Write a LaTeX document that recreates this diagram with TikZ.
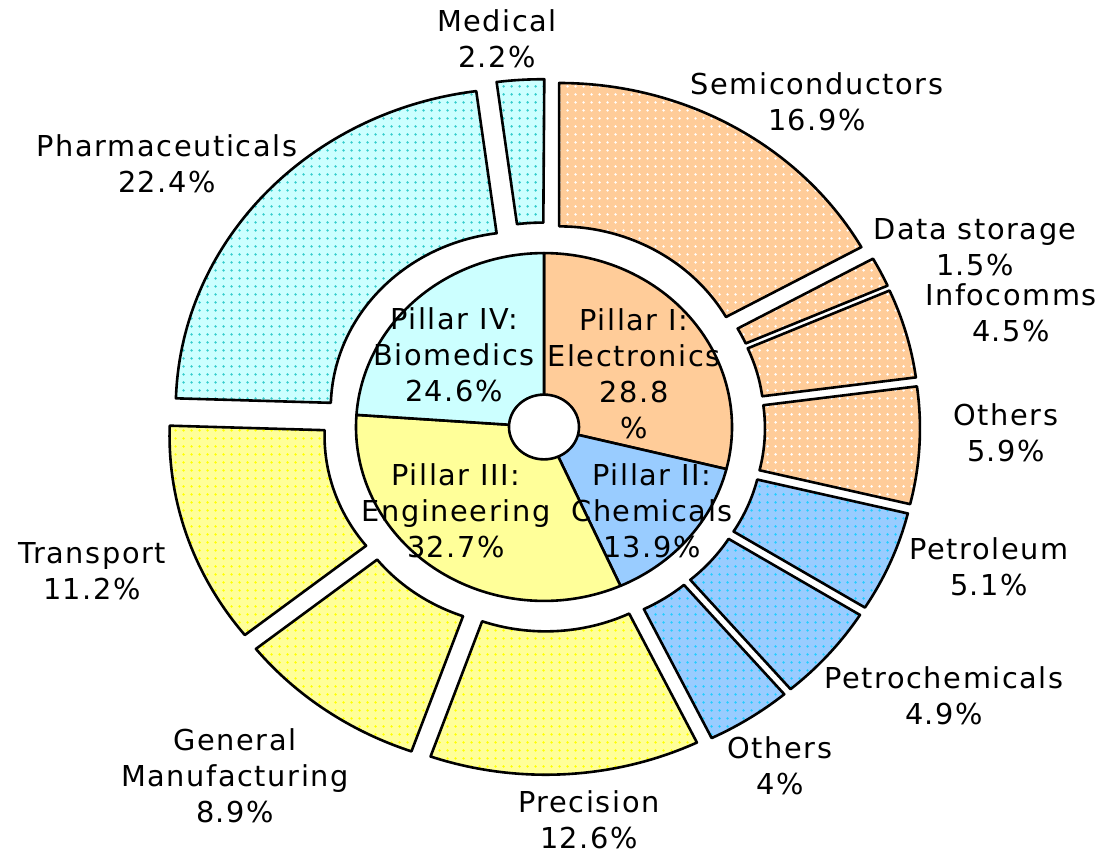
\documentclass[tikz,border=0pt]{standalone}
\usepackage{fontspec}
\setmainfont{DejaVu Sans}
\newfontfamily\lblfont[LetterSpace=5.5]{DejaVu Sans}
\usetikzlibrary{patterns.meta}
\definecolor{elec}{HTML}{FFCC99}
\definecolor{chem}{HTML}{99CCFF}
\definecolor{engi}{HTML}{FFFF99}
\definecolor{biom}{HTML}{CCFFFF}
\definecolor{elecdot}{HTML}{FFFFFF}
\definecolor{chemdot}{HTML}{22CCFF}
\definecolor{engidot}{HTML}{FFFF00}
\definecolor{biomdot}{HTML}{33CCCC}
\tikzset{
  lbl/.style={align=center, inner sep=0pt, font=\lblfont\fontsize{14.4pt}{18pt}\selectfont},
  outline/.style={draw=black, line width=1.3pt, line join=round},
}
\newcommand\ringseg[4]{%
  \pgfmathsetmacro\segmid{(#1+#2)/2}%
  \pgfmathsetmacro\segox{30*cos(\segmid)}%
  \pgfmathsetmacro\segoy{30*sin(\segmid)}%
  \path[outline, preaction={fill=#3}, pattern={Dots[distance=4pt, radius=0.75pt]}, pattern color=#4]
    ({\segox+191*cos(#1)},{\segoy+191*sin(#1)}) -- ({\segox+346*cos(#1)},{\segoy+346*sin(#1)})
    arc[start angle=#1, end angle=#2, radius=346]
    -- ({\segox+191*cos(#2)},{\segoy+191*sin(#2)})
    arc[start angle=#2, end angle=#1, radius=191] -- cycle;%
}
\newcommand\pieseg[3]{%
  \path[outline, fill=#3] (0,0) -- (#1:188) arc[start angle=#1, end angle=#2, radius=188] -- cycle;%
}
\begin{document}
\begin{tikzpicture}[x=0.5pt, y=0.5pt]
\useasboundingbox (0,0) rectangle (1107,854);
\fill[white] (0,0) rectangle (1107,854);
\begin{scope}[shift={(544,427)}, yscale=0.925]
  % outer ring: Electronics
  \ringseg{90}{29.16}{elec}{elecdot}
  \ringseg{29.16}{23.76}{elec}{elecdot}
  \ringseg{23.76}{7.56}{elec}{elecdot}
  \ringseg{7.56}{-13.68}{elec}{elecdot}
  % Chemicals
  \ringseg{-13.68}{-32.04}{chem}{chemdot}
  \ringseg{-32.04}{-49.68}{chem}{chemdot}
  \ringseg{-49.68}{-64.08}{chem}{chemdot}
  % Engineering
  \ringseg{-64.08}{-109.44}{engi}{engidot}
  \ringseg{-109.44}{-141.48}{engi}{engidot}
  \ringseg{-141.48}{-181.8}{engi}{engidot}
  % Biomedics
  \ringseg{178.2}{97.56}{biom}{biomdot}
  \ringseg{97.56}{89.64}{biom}{biomdot}
  % inner pie
  \pieseg{90}{-14}{elec}
  \pieseg{-14}{-66}{chem}
  \pieseg{-66}{-184}{engi}
  \pieseg{176}{90}{biom}
  \path[outline, fill=white] (0,0) circle[radius=35];
\end{scope}
% labels
\node[lbl] (medical) at (497,815.5) {Medical\\2.2\%};
\node[lbl] (semi) at (817,752) {Semiconductors\\16.9\%};
\node[lbl] (pharma) at (167,690) {Pharmaceuticals\\22.4\%};
\node[lbl] (datast) at (975,607) {Data storage\\1.5\%};
\node[lbl] (info) at (1011,541) {Infocomms\\4.5\%};
\node[lbl] (othE) at (1006,421) {Others\\5.9\%};
\node[lbl] (petro) at (989,287) {Petroleum\\5.1\%};
\node[lbl] (petrochem) at (944,158) {Petrochemicals\\4.9\%};
\node[lbl] (othC) at (780,88) {Others\\4\%};
\node[lbl] (prec) at (589,34) {Precision\\12.6\%};
\node[lbl] (genman) at (235,78) {General\\Manufacturing\\8.9\%};
\node[lbl] (trans) at (92,283) {Transport\\11.2\%};
\node[lbl] (p4) at (454,499) {Pillar IV:\\Biomedics\\24.6\%};
\node[lbl] (p1) at (634,480.5) {Pillar I:\\Electronics\\28.8\\\%};
\node[lbl] (p3) at (456,343) {Pillar III:\\Engineering\\32.7\%};
\node[lbl] (p2) at (652,343) {Pillar II:\\Chemicals\\13.9\%};
\end{tikzpicture}
\end{document}
